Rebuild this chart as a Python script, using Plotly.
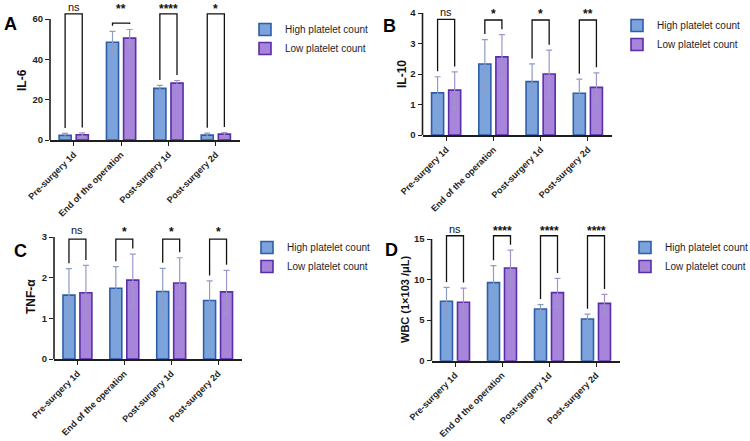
import plotly.graph_objects as go

# ---------------- data ----------------
categories = ["Pre-surgery 1d", "End of the operation", "Post-surgery 1d", "Post-surgery 2d"]
series_names = ["High platelet count", "Low platelet count"]

il6_high = [2.3, 48.5, 25.6, 2.4]
il6_high_sd = [1.0, 5.4, 1.5, 1.0]
il6_low = [2.6, 50.5, 28.2, 2.9]
il6_low_sd = [0.9, 4.3, 1.3, 0.8]
il6_sig = ["ns", "**", "****", "*"]
il6_bracket_top = [62.5, 58.0, 62.5, 62.5]

il10_high = [1.38, 2.33, 1.75, 1.37]
il10_high_sd = [0.53, 0.80, 0.58, 0.46]
il10_low = [1.47, 2.56, 2.00, 1.56]
il10_low_sd = [0.60, 0.73, 0.78, 0.48]
il10_sig = ["ns", "*", "*", "**"]
il10_bracket_top = [3.79, 3.77, 3.77, 3.77]

tnf_high = [1.57, 1.74, 1.66, 1.44]
tnf_high_sd = [0.65, 0.53, 0.57, 0.48]
tnf_low = [1.63, 1.94, 1.87, 1.65]
tnf_low_sd = [0.67, 0.64, 0.62, 0.53]
tnf_sig = ["ns", "*", "*", "*"]
tnf_bracket_top = [2.95, 2.95, 2.95, 2.95]

wbc_high = [7.33, 9.62, 6.37, 5.14]
wbc_high_sd = [1.70, 2.10, 0.55, 0.60]
wbc_low = [7.20, 11.43, 8.39, 7.07]
wbc_low_sd = [1.75, 2.20, 1.75, 1.10]
wbc_sig = ["ns", "****", "****", "****"]
wbc_bracket_top = [15.4, 15.4, 15.4, 15.4]

# ---------------- style ----------------
W, H = 750, 441
FONT = "Liberation Sans, Arial, sans-serif"
HIGH_FILL, HIGH_LINE, HIGH_ERR = "#7CA3DC", "#2F5EA8", "#8D9DC5"
LOW_FILL, LOW_LINE, LOW_ERR = "#A685DA", "#5A2EA6", "#A393CC"
AX = "#1E1E1E"
BARGAP, BARGROUPGAP = 0.277, 0.294

# panel geometry in pixels: x0, x1, y_zero, y_tickmax_px, domain_top_px
panels = [
    dict(letter="A", title="IL-6", high=il6_high, hsd=il6_high_sd, low=il6_low, lsd=il6_low_sd,
         sig=il6_sig, btop=il6_bracket_top, tmax=60, dtick=20, label_px=7,
         x0=50, x1=239.5, yz=140, yt=19, yd=0,
         letter_xy=(10, 24), title_xy=(22, 80), leg=(245, 15)),
    dict(letter="B", title="IL-10", high=il10_high, hsd=il10_high_sd, low=il10_low, lsd=il10_low_sd,
         sig=il10_sig, btop=il10_bracket_top, tmax=4, dtick=1, label_px=12,
         x0=422.5, x1=611.5, yz=135, yt=13, yd=0,
         letter_xy=(389, 26), title_xy=(402, 74), leg=(617, 11)),
    dict(letter="C", title="TNF-α", high=tnf_high, hsd=tnf_high_sd, low=tnf_low, lsd=tnf_low_sd,
         sig=tnf_sig, btop=tnf_bracket_top, tmax=3, dtick=1, label_px=230,
         x0=54, x1=241.5, yz=359, yt=237, yd=220,
         letter_xy=(20, 251), title_xy=(31, 297), leg=(247, 233)),
    dict(letter="D", title="WBC (1×103 /μL)", high=wbc_high, hsd=wbc_high_sd, low=wbc_low, lsd=wbc_low_sd,
         sig=wbc_sig, btop=wbc_bracket_top, tmax=15, dtick=5, label_px=229,
         x0=431.5, x1=619.5, yz=360.7, yt=239, yd=220,
         letter_xy=(391, 250), title_xy=(405, 300), leg=(625, 233)),
]

fig = go.Figure()
shapes, annotations = [], []
off = (1 - BARGAP) / 4.0  # half-slot offset of each bar from category centre

for i, p in enumerate(panels):
    n = i + 1
    xa = "x" if n == 1 else f"x{n}"
    ya = "y" if n == 1 else f"y{n}"
    lg = "legend" if n == 1 else f"legend{n}"
    unit = (p["yz"] - p["yt"]) / p["tmax"]          # px per data unit
    rtop = (p["yz"] - p["yd"]) / unit                # range top in data units

    for name, vals, sd, fill, line, ecol in [
        (series_names[0], p["high"], p["hsd"], HIGH_FILL, HIGH_LINE, HIGH_ERR),
        (series_names[1], p["low"], p["lsd"], LOW_FILL, LOW_LINE, LOW_ERR),
    ]:
        fig.add_trace(go.Bar(
            x=categories, y=vals, name=name, xaxis=xa, yaxis=ya, legend=lg,
            marker=dict(color=fill, line=dict(color=line, width=1.6)),
            error_y=dict(type="data", array=sd, visible=True, color=ecol, thickness=1.2, width=3),
            showlegend=True,
        ))

    xkey = "xaxis" if n == 1 else f"xaxis{n}"
    ykey = "yaxis" if n == 1 else f"yaxis{n}"
    fig.update_layout(**{
        xkey: dict(domain=[p["x0"] / W, p["x1"] / W], anchor=ya, type="category",
                   categoryorder="array", categoryarray=categories, range=[-0.5, 3.5],
                   showline=True, linecolor=AX, linewidth=1.6, ticks="outside", ticklen=4,
                   tickwidth=1.4, tickcolor=AX, tickangle=-45, automargin=False,
                   tickfont=dict(family=FONT, size=9, color=AX, weight="bold"),
                   showgrid=False, zeroline=False, fixedrange=True),
        ykey: dict(domain=[1 - p["yz"] / H, 1 - p["yd"] / H], anchor=xa, automargin=False,
                   range=[0, rtop], tickvals=list(range(0, p["tmax"] + 1, p["dtick"])),
                   showline=False, ticks="outside", ticklen=4, tickwidth=1.4, tickcolor=AX,
                   tickfont=dict(family=FONT, size=9.5, color=AX, weight="bold"),
                   showgrid=False, zeroline=False, fixedrange=True),
        lg: dict(x=p["leg"][0] / W, y=1 - p["leg"][1] / H, xanchor="left", yanchor="top",
                 bgcolor="rgba(0,0,0,0)", font=dict(family=FONT, size=10, color=AX),
                 tracegroupgap=0),
    })

    # y axis line only up to the top tick
    xd = "x domain" if n == 1 else f"x{n} domain"
    yd = "y domain" if n == 1 else f"y{n} domain"
    shapes.append(dict(type="line", xref=xd, yref=yd, x0=0, x1=0, y0=0, y1=p["tmax"] / rtop,
                       line=dict(color=AX, width=1.6)))

    gap = 0.045 * p["tmax"]
    label_y = (p["yz"] - p["label_px"]) / unit
    for k in range(len(categories)):
        xl, xr = k - off, k + off
        yl = p["high"][k] + p["hsd"][k] + gap
        yr = p["low"][k] + p["lsd"][k] + gap
        top = p["btop"][k]
        shapes.append(dict(type="path", xref=xa, yref=ya,
                           path=f"M {xl} {yl} L {xl} {top} L {xr} {top} L {xr} {yr}",
                           line=dict(color="#111111", width=1.3)))
        s = p["sig"][k]
        is_ns = s == "ns"
        annotations.append(dict(xref=xa, yref=ya, x=k, y=label_y, text=s, showarrow=False,
                                yanchor="middle", yshift=0 if is_ns else -2,
                                font=dict(family=FONT, size=11 if is_ns else 12, color="#111111",
                                          weight="normal" if is_ns else "bold")))

    annotations.append(dict(xref="paper", yref="paper", x=p["letter_xy"][0] / W,
                            y=1 - p["letter_xy"][1] / H, text=p["letter"], showarrow=False,
                            xanchor="center", yanchor="middle",
                            font=dict(family=FONT, size=18, color="#000000", weight="bold")))
    annotations.append(dict(xref="paper", yref="paper", x=p["title_xy"][0] / W,
                            y=1 - p["title_xy"][1] / H, text=p["title"], showarrow=False,
                            textangle=-90, xanchor="center", yanchor="middle",
                            font=dict(family=FONT, size=12 if n != 4 else 11, color="#111111",
                                      weight="bold")))

fig.update_layout(
    width=W, height=H, margin=dict(l=0, r=0, t=0, b=0, autoexpand=False),
    paper_bgcolor="white", plot_bgcolor="white",
    barmode="group", bargap=BARGAP, bargroupgap=BARGROUPGAP,
    shapes=shapes, annotations=annotations,
    font=dict(family=FONT, color=AX),
)

fig.write_html("out.html")
